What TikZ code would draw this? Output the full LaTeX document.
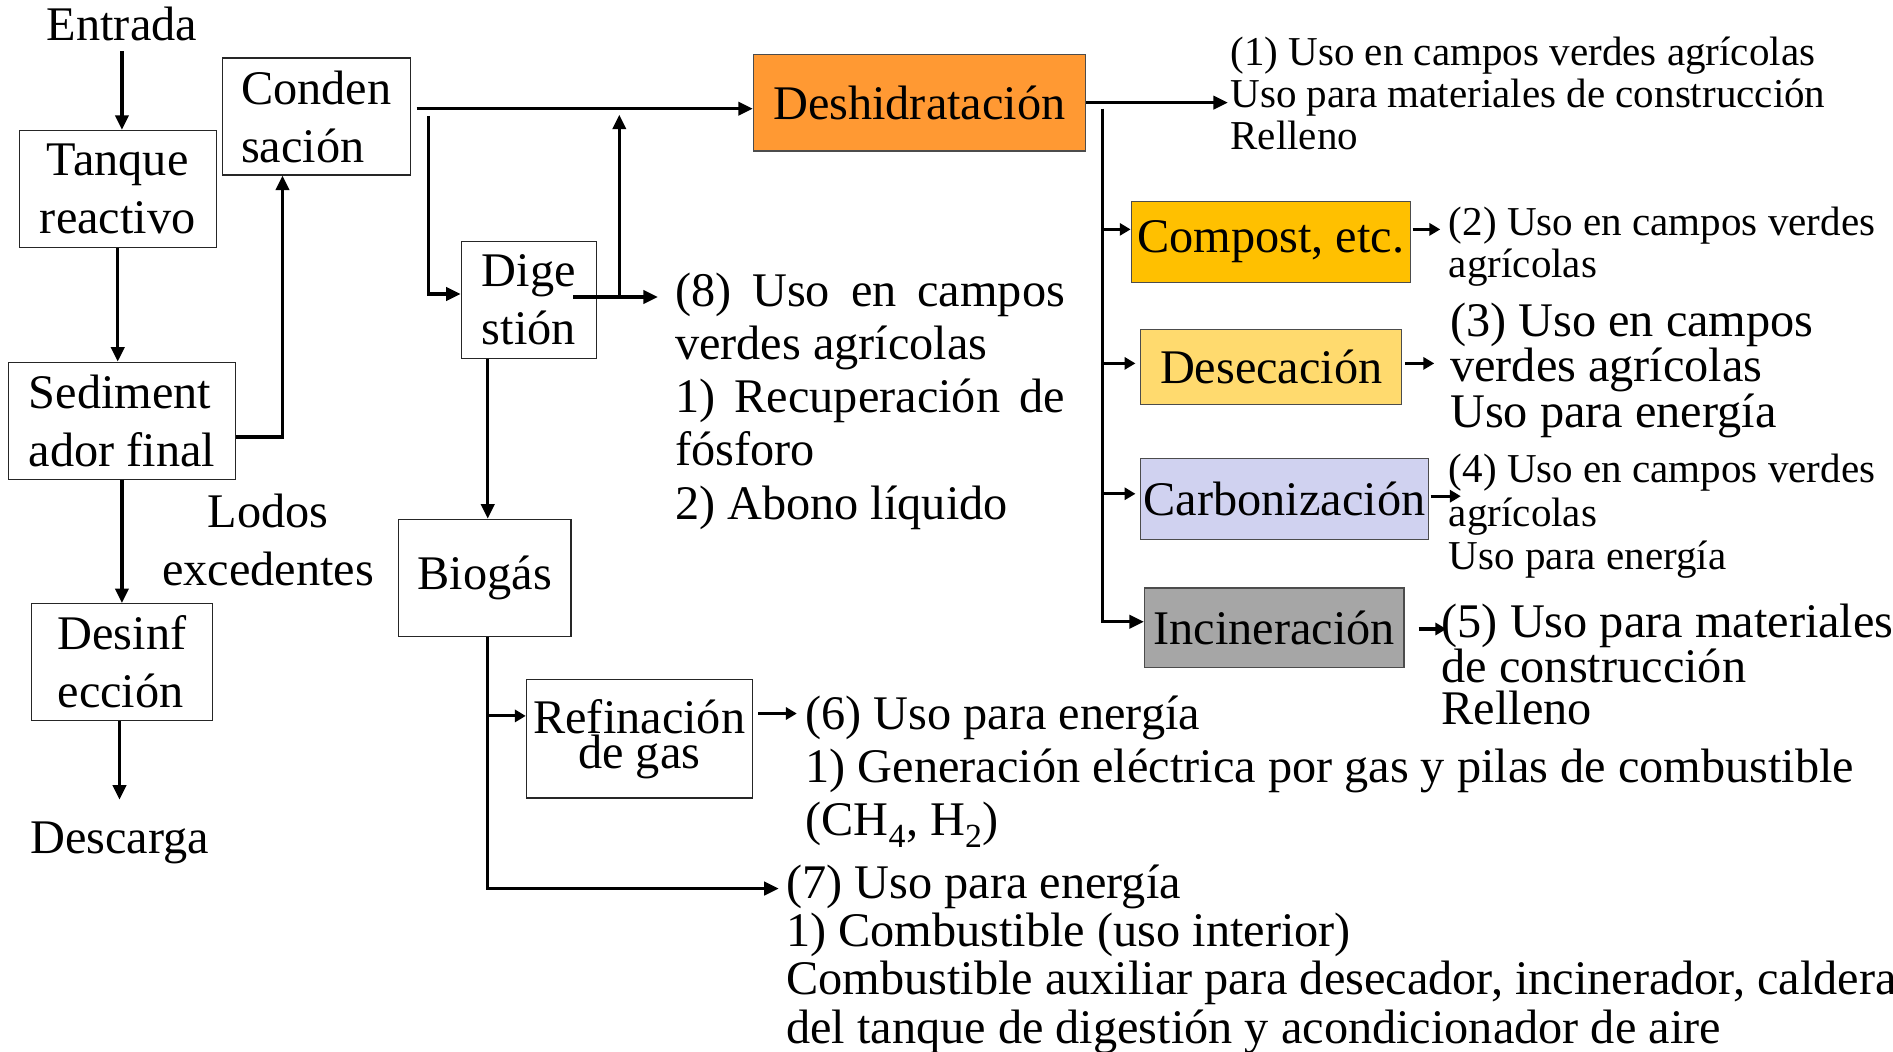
\documentclass[tikz,border=0pt]{standalone}
\usepackage{fontspec}
\setmainfont{Liberation Serif}
\usetikzlibrary{arrows.meta,calc}
\setlength{\parindent}{0pt}
\definecolor{deshcol}{RGB}{255,153,51}
\definecolor{compcol}{RGB}{255,192,0}
\definecolor{deseccol}{RGB}{255,218,110}
\definecolor{carbcol}{RGB}{208,210,240}
\definecolor{incincol}{RGB}{166,166,166}

\begin{document}
\begin{tikzpicture}[>={Triangle[length=12pt,width=11pt]},x=1pt,y=-1pt,
 box/.style={draw=black!85,line width=1pt,inner sep=0pt,align=left,font=\fontsize{40}{48}\selectfont},
 cbox/.style={box,draw=black!70,align=center},
 lab/.style={inner sep=0pt,anchor=north west,align=left},
 flow/.style={->,line width=2.6pt},
 sflow/.style={-{Triangle[length=9pt,width=10pt]},line width=2.6pt}]
\useasboundingbox (0,0) rectangle (1568,871);
% cajas de la linea de agua
\node[box,align=center,minimum width=163pt,minimum height=97pt] (tanque) at (97.5,156.5) {Tanque\\reactivo};
\node[box,minimum width=156pt,minimum height=97pt] (conden) at (262,96.5) {Conden\\sación};
\node[box,minimum width=188pt,minimum height=97pt] (sediment) at (101,348.5) {Sediment\\ador final};
\node[box,minimum width=150pt,minimum height=97pt] (desinf) at (101,548.5) {Desinf\\ección};
\node[box,minimum width=112pt,minimum height=97pt] (dige) at (438,248.5) {Dige\\stión};
\node[box,minimum width=143pt,minimum height=97pt] (biogas) at (401.5,478.5) {Biogás};
\node[box,align=center,font=\fontsize{40}{28}\selectfont,minimum width=187pt,minimum height=98pt] (refin) at (529.5,612) {Refinación\\de gas};
% cajas de color
\node[cbox,fill=deshcol,minimum width=275pt,minimum height=80pt] (deshid) at (761.5,85) {Deshidratación};
\node[cbox,fill=compcol,minimum width=231pt,minimum height=67pt] (compost) at (1052.5,200.5) {Compost, etc.};
\node[cbox,fill=deseccol,minimum width=216pt,minimum height=62pt] (desec) at (1053,304) {Desecación};
\node[cbox,fill=carbcol,minimum width=238pt,minimum height=67pt] (carbon) at (1064,413.5) {Carbonización};
\node[cbox,fill=incincol,minimum width=215pt,minimum height=66pt] (incin) at (1055.5,520) {Incineración};
% textos
\node[inner sep=0pt,font=\fontsize{40}{48}\selectfont] (entrada) at (101,20) {Entrada};
\node[inner sep=0pt,font=\fontsize{40}{48}\selectfont] (descarga) at (99,698) {Descarga};
\node[inner sep=0pt,align=center,font=\fontsize{40}{48}\selectfont] (lodos) at (222,447) {Lodos\\excedentes};
\node[lab,font=\fontsize{34}{35}\selectfont] (uso1) at (1019,30) {(1) Uso en campos verdes agrícolas\\Uso para materiales de construcción\\Relleno};
\node[lab,font=\fontsize{34}{35}\selectfont] (uso2) at (1200,171) {(2) Uso en campos verdes\\agrícolas};
\node[lab,font=\fontsize{40}{35.5}\selectfont] (uso3) at (1201,251) {(3) Uso en campos\\verdes agrícolas\\Uso para energía};
\node[lab,font=\fontsize{34}{36}\selectfont] (uso4) at (1200,376) {(4) Uso en campos verdes\\agrícolas\\Uso para energía};
\node[lab,font=\fontsize{40}{35}\selectfont] (uso5) at (1194,500) {(5) Uso para materiales\\de construcción\\Relleno};
\node[lab,font=\fontsize{40}{44}\selectfont] (uso6) at (667,576) {(6) Uso para energía\\1) Generación eléctrica por gas y pilas de combustible\\(CH\textsubscript{4}, H\textsubscript{2})};
\node[lab,font=\fontsize{40}{40}\selectfont] (uso7) at (651,716) {(7) Uso para energía\\1) Combustible (uso interior)\\Combustible auxiliar para desecador, incinerador, caldera\\del tanque de digestión y acondicionador de aire};
\node[lab,text width=323pt,align=justify,font=\fontsize{40}{44}\selectfont] (uso8) at (559,226) {(8) Uso en campos verdes agrícolas\par 1) Recuperación de fósforo\par 2) Abono líquido};
% puntos de union
\coordinate (cj) at (345,90);
\coordinate (dj) at (355,96);
\coordinate (gj) at (475,246);
\coordinate (uj) at (513,246);
\coordinate (bj) at (404,736);
\coordinate (rj) at (404,593);
\coordinate (tj) at (913,90);
\coordinate (fj) at (628,591);
\coordinate (a2) at (937,190);
\coordinate (a3) at (945,301);
\coordinate (a4) at (945,409);
\coordinate (b2) at (1170,190);
\coordinate (b3) at (1164,301);
\coordinate (b4) at (1185,411);
\coordinate (b5) at (1175,521);
% conexiones
\draw[flow,shorten <=8pt] (entrada.south) -- (entrada.south |- tanque.north);
\draw[flow] (tanque.south) -- (tanque.south |- sediment.north);
\draw[flow] (sediment) -- (desinf);
\draw[flow,shorten >=18pt] (desinf.south -| descarga.north) -- (descarga.north);
\draw[flow] ($(sediment.east)+(0,13.5)$) -| ($(conden.south)+(-28,0)$);
\draw[flow] (cj) -- (cj -| deshid.west);
\draw[flow] (dj) |- ($(dige.west)+(0,-5)$);
\draw[flow,shorten >=14pt] (gj) -- (gj -| uso8.west);
\draw[flow,shorten >=5pt] (uj) -- (uj |- cj);
\draw[flow] (dige.south -| bj) -- (bj |- biogas.north);
\draw[flow,shorten >=6pt] (biogas.south -| bj) -- (bj) -- (bj -| uso7.west);
\draw[sflow] (rj) -- (rj -| refin.west);
\draw[sflow,shorten >=7pt] (fj) -- (fj -| uso6.west);
\draw[flow,shorten >=2pt] (deshid.east) -- (deshid.east -| uso1.west);
\draw[flow] (tj) |- ($(incin.west)+(0,-5)$);
\draw[sflow] (a2 -| tj) -- (a2 -| compost.west);
\draw[sflow,shorten >=4pt] (a3 -| tj) -- (a3 -| desec.west);
\draw[sflow,shorten >=4pt] (a4 -| tj) -- (a4 -| carbon.west);
\draw[sflow,shorten >=7pt] (b2) -- (b2 -| uso2.west);
\draw[sflow,shorten >=13pt] (b3) -- (b3 -| uso3.west);
\draw[sflow,shorten >=-10pt] (b4) -- (b4 -| uso4.west);
\draw[sflow,shorten >=-4pt] (b5) -- (b5 -| uso5.west);
\end{tikzpicture}
\end{document}
